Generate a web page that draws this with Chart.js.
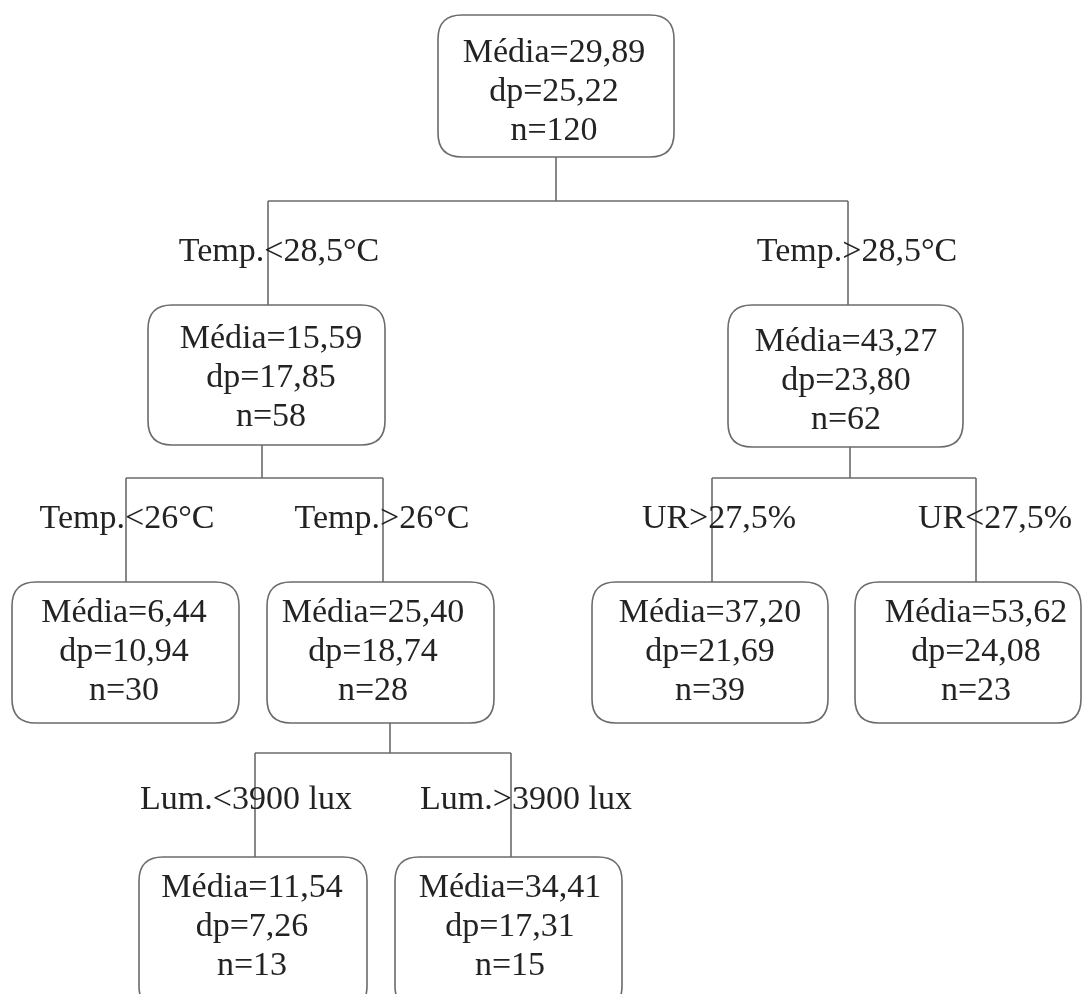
<!DOCTYPE html>
<html>
<head>
<meta charset="utf-8">
<title>Árvore de regressão</title>
<script src="https://cdn.jsdelivr.net/npm/chart.js@4"></script>
<style>
  html, body { margin: 0; padding: 0; background: #ffffff; }
  canvas { display: block; }
</style>
</head>
<body>
<canvas id="tree" width="1083" height="994"></canvas>
<script>
// Node statistics (root first, then children level by level)
const nodeMeans  = [29.89, 15.59, 43.27, 6.44, 25.40, 37.20, 53.62, 11.54, 34.41];
const nodeSDs    = [25.22, 17.85, 23.80, 10.94, 18.74, 21.69, 24.08, 7.26, 17.31];
const nodeCounts = [120, 58, 62, 30, 28, 39, 23, 13, 15];
const nodeParent = [null, 0, 0, 1, 1, 2, 2, 4, 4];
// Split condition leading into each non-root node (index = node index)
const splitLabels = [null, 'Temp.<28,5°C', 'Temp.>28,5°C', 'Temp.<26°C', 'Temp.>26°C',
                     'UR>27,5%', 'UR<27,5%', 'Lum.<3900 lux', 'Lum.>3900 lux'];

// Layout in drawing units (x: 0..1083, y: 0..994 from the top)
const boxRects = [
  [438, 15, 674, 157],
  [148, 305, 385, 445],
  [728, 305, 963, 447],
  [12, 582, 239, 723],
  [267, 582, 494, 723],
  [592, 582, 828, 723],
  [855, 582, 1081, 723],
  [139, 857, 367, 1010],
  [395, 857, 622, 1010]
];
const textCenterX = [554, 271, 846, 124, 373, 710, 976, 252, 510];
const firstLineY  = [51, 337, 340, 611, 611, 611, 611, 886, 886];
const lineStep = 39;
// Connector geometry per split: stem x, bar y, child drop xs
const splitStems = { 0: [556, 201], 1: [262, 478], 2: [850, 478], 4: [390, 753] };
const childDropX = [null, 268, 848, 126, 383, 712, 976, 255, 511];
const labelPos = [null, [279, 250], [857, 250], [127, 517], [382, 517],
                  [719, 517], [995, 517], [246, 798], [526, 798]];

const fmt = v => v.toFixed(2).replace('.', ',');
const LINE = '#6b6b6b';
const TEXT = '#232323';
const FONT = '34px "Liberation Serif", "Times New Roman", serif';

// Build the connector segments
const segments = [];
Object.keys(splitStems).forEach(k => {
  const p = +k;
  const [sx, by] = splitStems[p];
  const kids = nodeParent.map((par, i) => par === p ? i : -1).filter(i => i >= 0);
  segments.push([[sx, boxRects[p][3]], [sx, by]]);
  const xs = kids.map(c => childDropX[c]);
  segments.push([[Math.min(...xs), by], [Math.max(...xs), by]]);
  kids.forEach(c => segments.push([[childDropX[c], by], [childDropX[c], boxRects[c][1]]]));
});

const datasets = segments.map(seg => ({
  data: seg.map(([x, y]) => ({ x, y })),
  showLine: true,
  borderColor: LINE,
  borderWidth: 1.6,
  pointRadius: 0,
  pointHoverRadius: 0,
  fill: false
}));

function roundRect(ctx, x0, y0, x1, y1, r) {
  ctx.beginPath();
  ctx.moveTo(x0 + r, y0);
  ctx.lineTo(x1 - r, y0);
  ctx.quadraticCurveTo(x1, y0, x1, y0 + r);
  ctx.lineTo(x1, y1 - r);
  ctx.quadraticCurveTo(x1, y1, x1 - r, y1);
  ctx.lineTo(x0 + r, y1);
  ctx.quadraticCurveTo(x0, y1, x0, y1 - r);
  ctx.lineTo(x0, y0 + r);
  ctx.quadraticCurveTo(x0, y0, x0 + r, y0);
  ctx.closePath();
}

const treeNodes = {
  id: 'treeNodes',
  afterDatasetsDraw(chart) {
    const { ctx, scales: { x, y } } = chart;
    const px = v => x.getPixelForValue(v);
    const py = v => y.getPixelForValue(v);
    ctx.save();
    // node boxes
    boxRects.forEach(([l, t, r, b]) => {
      roundRect(ctx, px(l), py(t), px(r), py(b), 24);
      ctx.fillStyle = '#ffffff';
      ctx.fill();
      ctx.strokeStyle = LINE;
      ctx.lineWidth = 1.6;
      ctx.stroke();
    });
    ctx.font = FONT;
    ctx.fillStyle = TEXT;
    ctx.textAlign = 'center';
    ctx.textBaseline = 'alphabetic';
    // node statistics
    nodeMeans.forEach((m, i) => {
      const lines = ['Média=' + fmt(m), 'dp=' + fmt(nodeSDs[i]), 'n=' + nodeCounts[i]];
      lines.forEach((s, j) => {
        ctx.fillText(s, px(textCenterX[i]), py(firstLineY[i] + j * lineStep + 11));
      });
    });
    // split conditions
    splitLabels.forEach((s, i) => {
      if (!s) return;
      const [lx, ly] = labelPos[i];
      ctx.fillText(s, px(lx), py(ly + 11));
    });
    ctx.restore();
  }
};

new Chart(document.getElementById('tree'), {
  type: 'scatter',
  data: { datasets },
  options: {
    responsive: false,
    animation: false,
    layout: { padding: 0 },
    events: [],
    plugins: { legend: { display: false }, tooltip: { enabled: false } },
    scales: {
      x: { type: 'linear', min: 0, max: 1083, display: false },
      y: { type: 'linear', min: 0, max: 994, reverse: true, display: false }
    }
  },
  plugins: [treeNodes]
});
</script>
</body>
</html>
